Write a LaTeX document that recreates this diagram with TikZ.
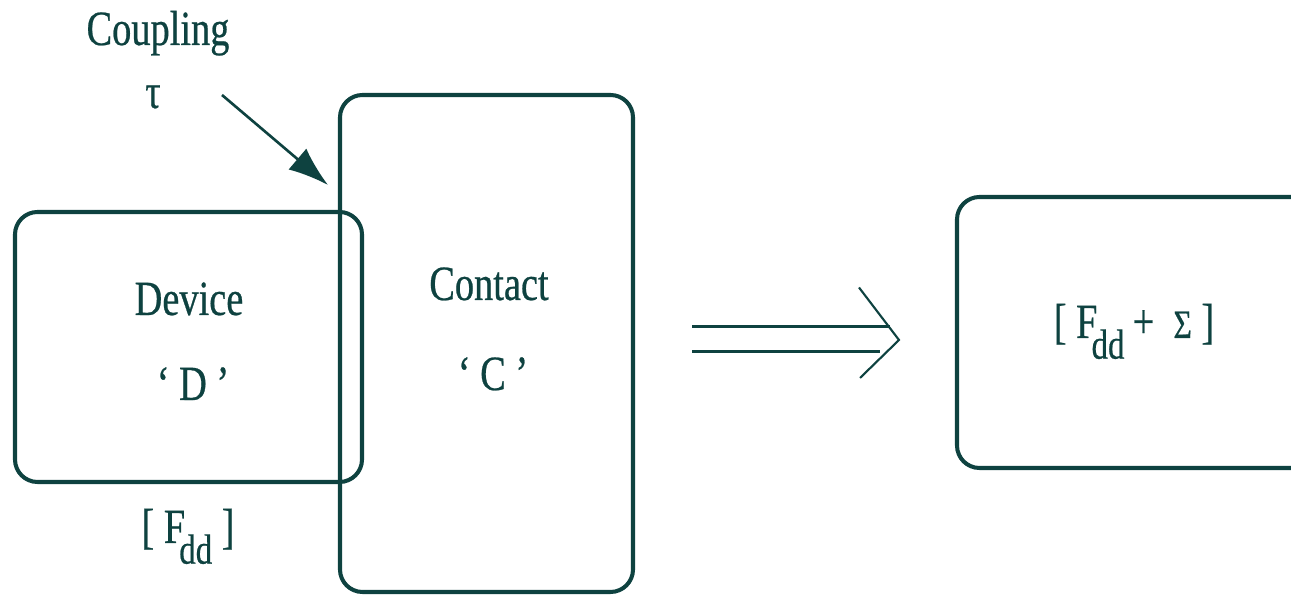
\documentclass[tikz,border=0pt]{standalone}
\usepackage{fontspec}
\setmainfont[FakeStretch=0.78,FakeBold=0.5]{Liberation Serif}
\usetikzlibrary{arrows.meta}
\definecolor{ink}{RGB}{14,66,64}
\newcommand\Fdd{F\kern-0.12em\raisebox{-0.42em}{\fontsize{24}{26}\selectfont dd}}

\begin{document}
\begin{tikzpicture}[
    box/.style={draw=ink, line width=2.3pt, rounded corners=0.45cm, inner sep=0pt},
    lbl/.style={text=ink, font=\fontsize{28}{32}\selectfont, anchor=base, inner sep=0pt}]
  \useasboundingbox (0,0) rectangle (25.82,11.9);
  \clip (0,0) rectangle (25.82,11.9);
  \node[box, minimum width=6.94cm, minimum height=5.4cm] (device) at (3.77,4.96) {};
  \node[box, minimum width=5.86cm, minimum height=9.94cm] (contact) at (9.73,5.03) {};
  \node[box, minimum width=7.86cm, minimum height=5.42cm] (result) at (23.07,5.25) {};
  \node[lbl] (devname) at (3.78,5.6) {Device};
  \node[lbl] (devtag) at (3.86,3.9) {‘~D~’};
  \node[lbl] (conname) at (9.78,5.9) {Contact};
  \node[lbl] (contag) at (9.86,4.1) {‘~C~’};
  \node[lbl] (fdd) at (3.76,1.04) {[~\Fdd~]};
  \node[lbl] (fsigma) at (22.68,5.14) {[~\Fdd\,+~~{\fontsize{23}{26}\selectfont Σ}~]};
  \node[lbl] (coupling) at (3.16,11.0) {Coupling};
  \node[lbl] (tau) at (3.06,9.74) {τ};
  \coordinate (cfrom) at (4.44,10.0);
  \coordinate (cto) at (6.56,8.2);
  \draw[ink, line width=1.5pt, -{Latex[length=0.8cm,width=0.55cm]}] (cfrom) -- (cto);
  \coordinate (imp) at (13.84,5.12);
  \coordinate (imptip) at (17.98,5.1);
  \draw[ink, line width=1.2pt] ([yshift=0.25cm]imp) -- ++(3.95,0)
    ([yshift=-0.25cm]imp) -- ++(3.75,0);
  \draw[ink, line width=1.2pt] ([shift={(-0.8,1.05)}]imptip) -- (imptip) -- ([shift={(-0.78,-0.76)}]imptip);
\end{tikzpicture}
\end{document}
